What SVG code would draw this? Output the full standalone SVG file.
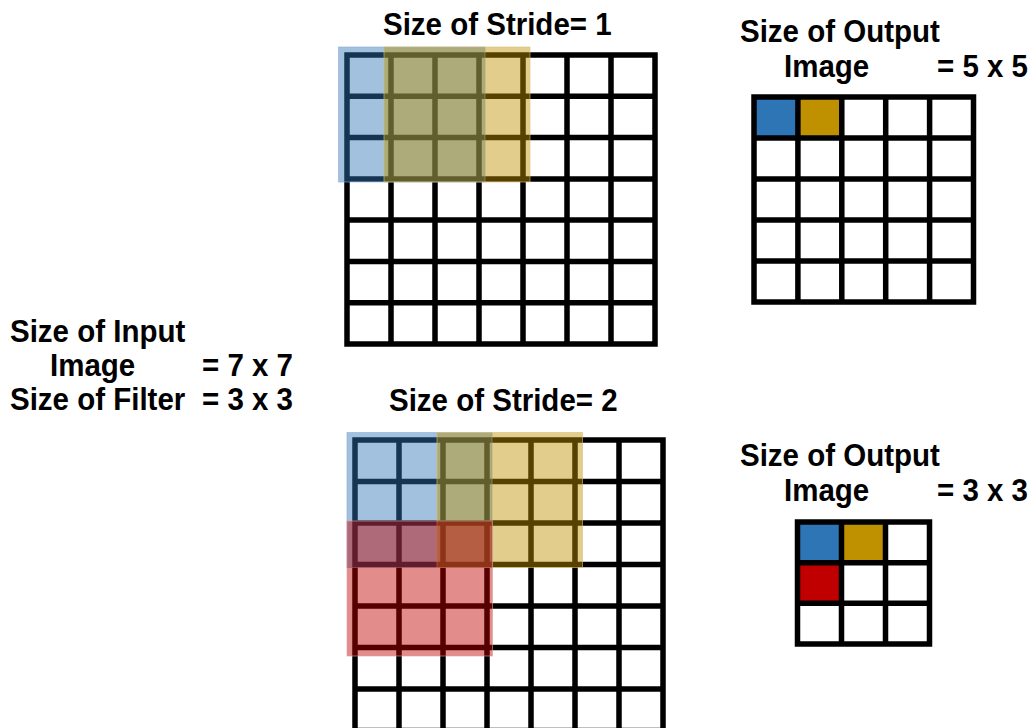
<svg xmlns="http://www.w3.org/2000/svg" width="1033" height="728" viewBox="0 0 1033 728">
<style>
.t{font-family:"Liberation Sans",Arial,sans-serif;font-weight:bold;font-size:29.5px;fill:#000}
.g{fill:none;stroke:#000;stroke-width:5.5;stroke-linecap:square}
.bl{fill:#2E75B6;fill-opacity:0.45;stroke:#8FAADC;stroke-opacity:0.6;stroke-width:1}
.ye{fill:#BF9000;fill-opacity:0.45;stroke:#D9C27A;stroke-opacity:0.6;stroke-width:1}
.rd{fill:#C00000;fill-opacity:0.45;stroke:#D9A0A0;stroke-opacity:0.6;stroke-width:1}
</style>
<rect width="1033" height="728" fill="#fff"/>
<g id="input-label">
<text class="t" transform="translate(10,341.5) scale(1,1.08)">Size of Input</text>
<text class="t" transform="translate(50,376) scale(1,1.08)">Image</text>
<text class="t" transform="translate(202,376) scale(1,1.08)">= 7 x 7</text>
<text class="t" transform="translate(10,410) scale(1,1.08)">Size of Filter</text>
<text class="t" transform="translate(202,410) scale(1,1.08)">= 3 x 3</text>
</g>
<g id="stride1-title"><text class="t" transform="translate(383,35) scale(1,1.08)">Size of Stride= 1</text></g>
<g id="stride1-grid">
<path class="g" d="M347 55V344M391 55V344M435 55V344M479 55V344M523 55V344M567 55V344M611 55V344M655 55V344M347 55H655M347 96.3H655M347 137.6H655M347 178.9H655M347 220.1H655M347 261.4H655M347 302.7H655M347 344H655"/>
<rect class="bl" x="338.5" y="47" width="146.5" height="135"/>
<rect class="ye" x="384" y="47" width="146" height="135"/>
</g>
<g id="output1-label">
<text class="t" transform="translate(740,41.5) scale(1,1.08)">Size of Output</text>
<text class="t" transform="translate(784,76.5) scale(1,1.08)">Image</text>
<text class="t" transform="translate(937,76.5) scale(1,1.08)">= 5 x 5</text>
</g>
<g id="output1-grid">
<rect x="754" y="97" width="44" height="41" fill="#2E75B6"/>
<rect x="798" y="97" width="44" height="41" fill="#BF9000"/>
<path class="g" d="M754 97V302M797.9 97V302M841.8 97V302M885.7 97V302M929.6 97V302M973.5 97V302M754 97H973.5M754 138H973.5M754 179H973.5M754 220H973.5M754 261H973.5M754 302H973.5"/>
</g>
<g id="stride2-title"><text class="t" transform="translate(389,411) scale(1,1.08)">Size of Stride= 2</text></g>
<g id="stride2-grid">
<path class="g" d="M355 440V731M399 440V731M443 440V731M487 440V731M531 440V731M575 440V731M619 440V731M663 440V731M355 440H663M355 481.5H663M355 523H663M355 564.5H663M355 606H663M355 647.5H663M355 689H663M355 730.5H663"/>
<rect class="bl" x="347" y="432.5" width="145" height="135"/>
<rect class="ye" x="437" y="432.5" width="145.5" height="135"/>
<rect class="rd" x="347" y="521" width="145.5" height="135"/>
</g>
<g id="output2-label">
<text class="t" transform="translate(740,466) scale(1,1.08)">Size of Output</text>
<text class="t" transform="translate(784,500.5) scale(1,1.08)">Image</text>
<text class="t" transform="translate(937,500.5) scale(1,1.08)">= 3 x 3</text>
</g>
<g id="output2-grid">
<rect x="797.5" y="522" width="44" height="41" fill="#2E75B6"/>
<rect x="841.5" y="522" width="44" height="41" fill="#BF9000"/>
<rect x="797.5" y="563" width="44" height="41" fill="#C00000"/>
<path class="g" d="M797.5 522V644M841.5 522V644M885.5 522V644M929.5 522V644M797.5 522H929.5M797.5 562.7H929.5M797.5 603.3H929.5M797.5 644H929.5"/>
</g>
</svg>
